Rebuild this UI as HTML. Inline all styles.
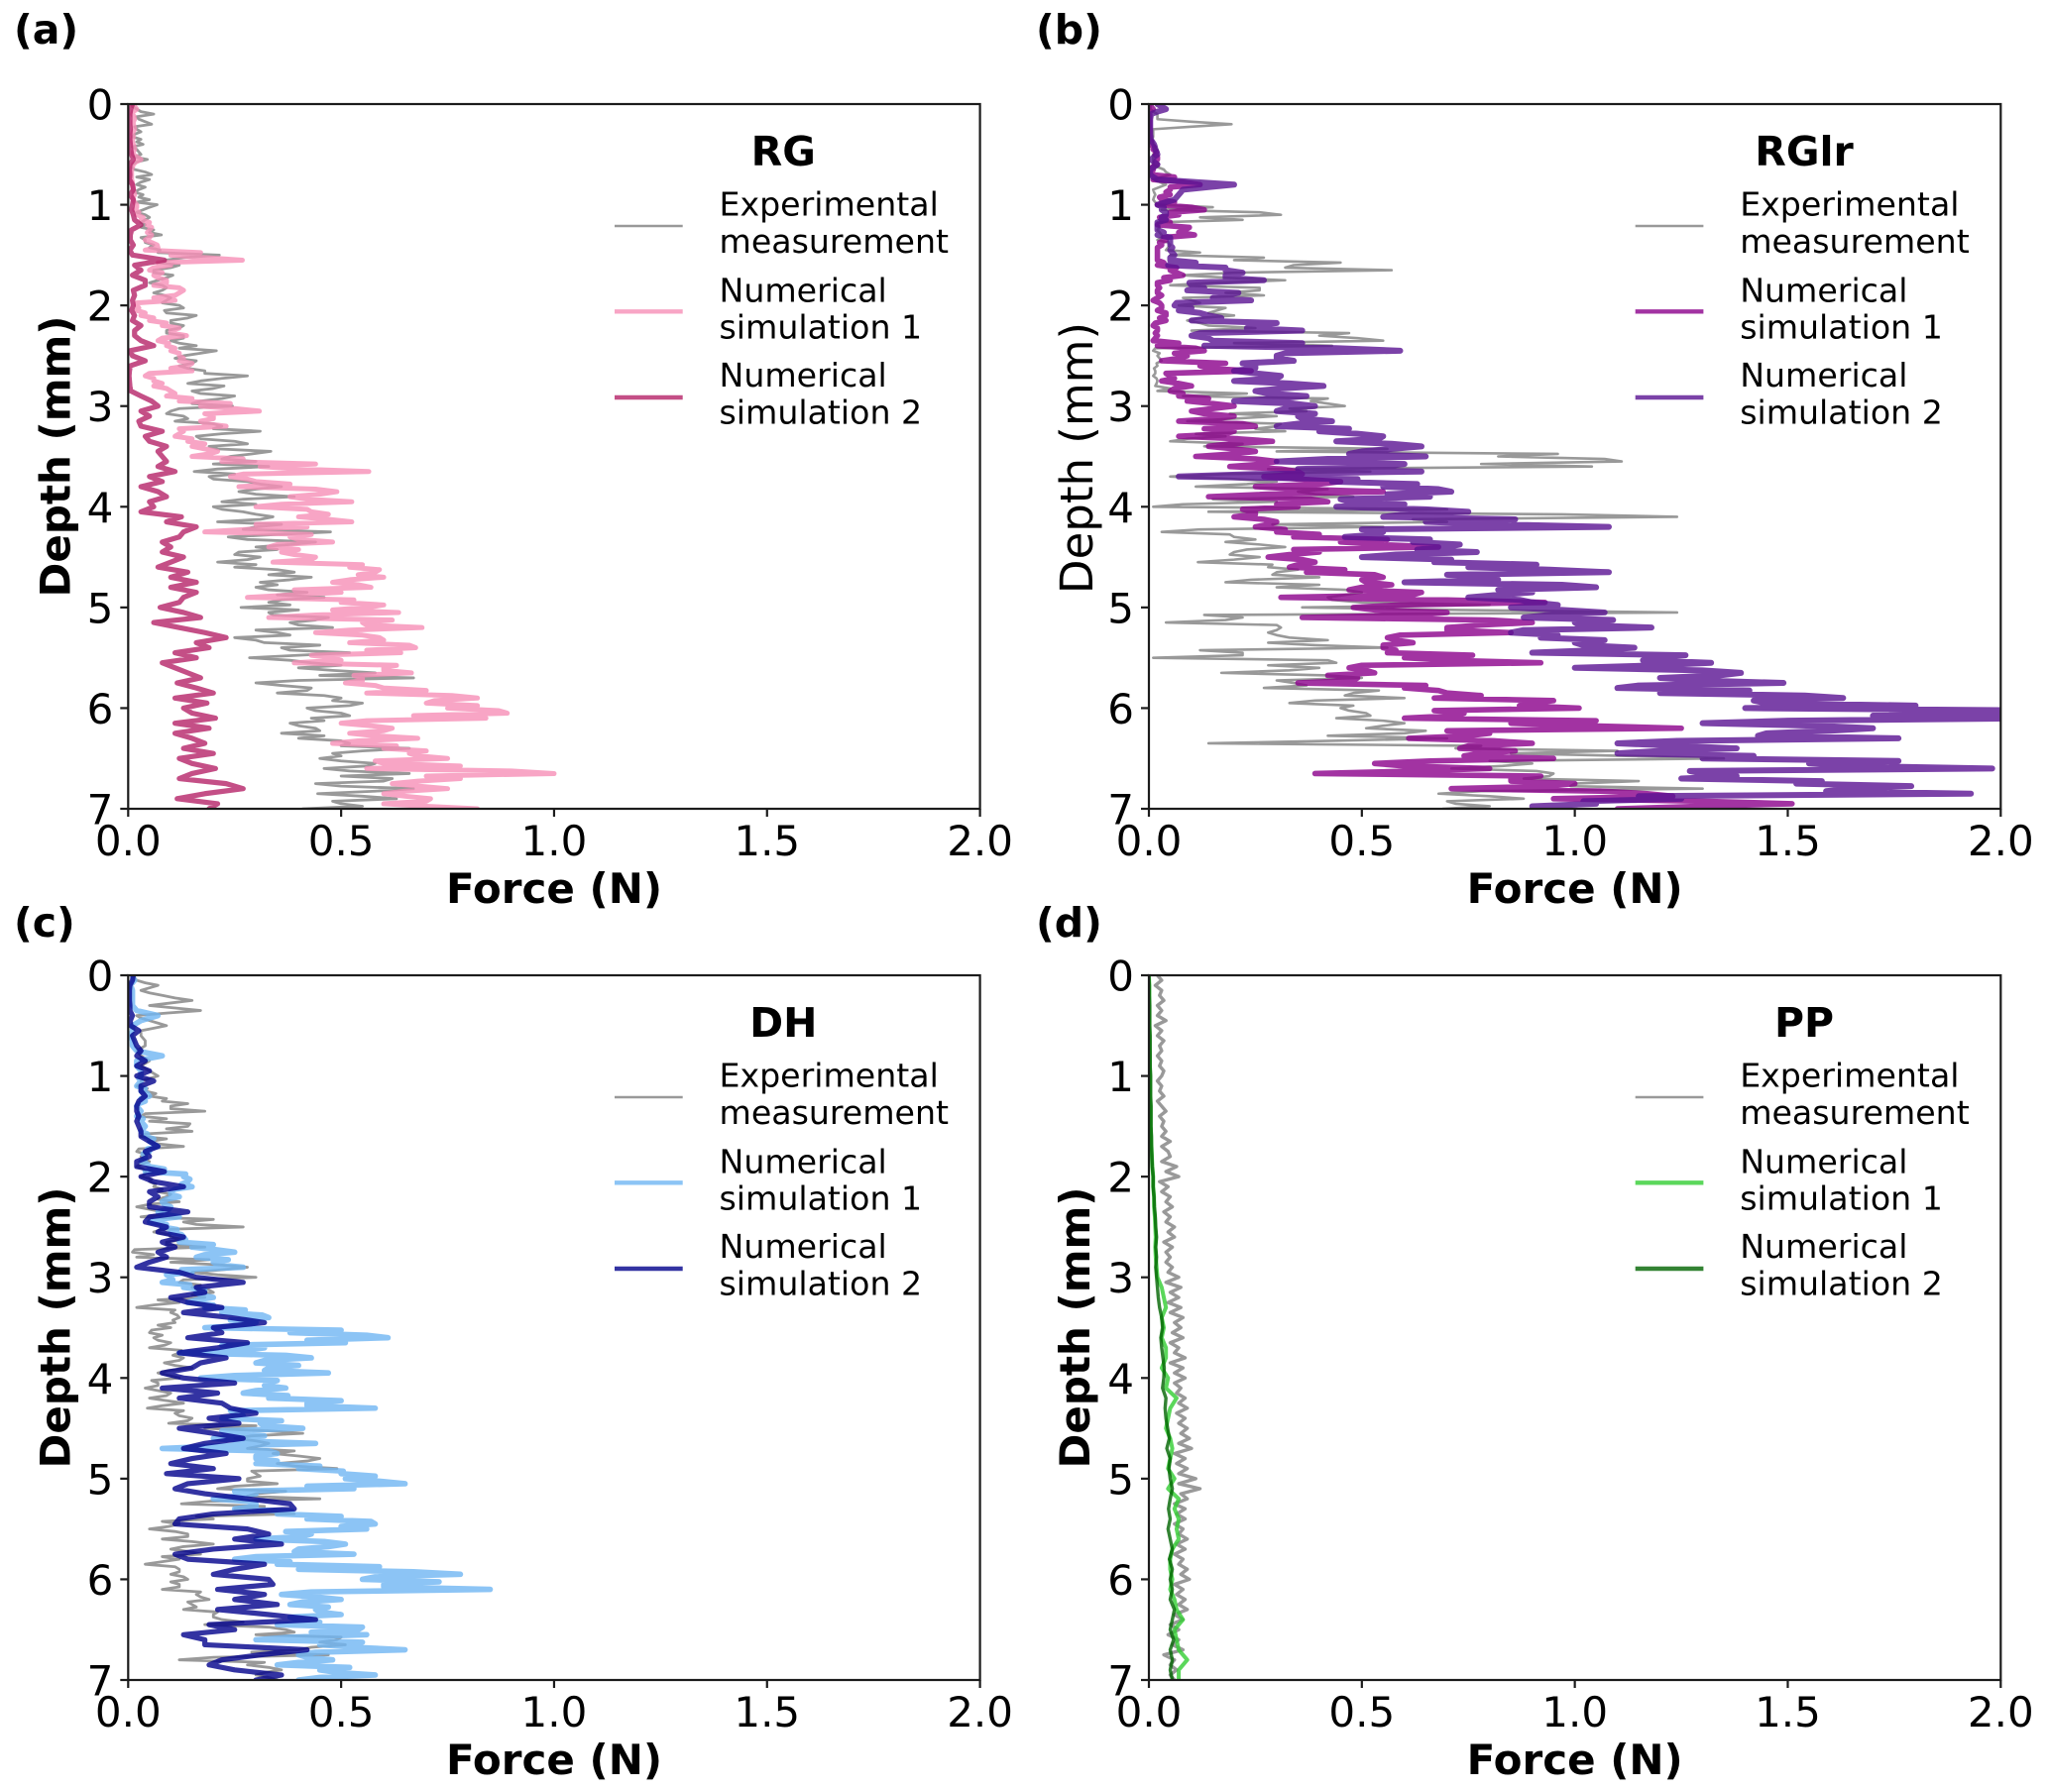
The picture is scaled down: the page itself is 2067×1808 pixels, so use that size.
<!DOCTYPE html>
<html lang="en">
<head>
<meta charset="utf-8">
<title>Force versus depth for RG, RGlr, DH and PP</title>
<style>
html,body{margin:0;padding:0;background:#fff;}
svg{display:block;}
text{font-family:"DejaVu Sans","Liberation Sans",sans-serif;fill:#000;}
.tick{font-size:42px;}
.axis-title{font-size:42px;font-weight:bold;}
.legend-title{font-size:41px;font-weight:bold;text-anchor:middle;}
.legend-text{font-size:33.2px;}
.panel-tag{font-size:41px;font-weight:bold;}
.frame{fill:none;stroke:#1c1c1c;stroke-width:2.2;}
</style>
</head>
<body>
<svg id="figure" xmlns="http://www.w3.org/2000/svg" width="2067" height="1808" viewBox="0 0 2067 1808">
<rect x="0" y="0" width="2067" height="1808" fill="#fff"/>
<defs>
<clipPath id="plot-clip"><rect x="0" y="0" width="859.3" height="711"/></clipPath>
</defs>

<text class="panel-tag" x="14" y="44">(a)</text>
<text class="panel-tag" x="1045" y="44">(b)</text>
<text class="panel-tag" x="14" y="945">(c)</text>
<text class="panel-tag" x="1045" y="945">(d)</text>

<g id="panel-a" transform="translate(129.3 105)">
<g id="marks-a" clip-path="url(#plot-clip)"></g>
<rect class="frame" x="0" y="0" width="859.3" height="711"/>
<g id="ticks-a"></g>
<text class="axis-title" x="429.7" y="806" text-anchor="middle">Force (N)</text>
<text class="axis-title" transform="translate(-59 355.5) rotate(-90)" text-anchor="middle">Depth (mm)</text>
<g>
<text class="legend-title" x="661" y="62">RG</text>
<line x1="490.7" x2="559.4" y1="123" y2="123" stroke="#808080" stroke-opacity="0.8" stroke-width="2.6"/>
<text class="legend-text" x="596.2" y="112.7">Experimental</text>
<text class="legend-text" x="596.2" y="150">measurement</text>
<line x1="490.7" x2="559.4" y1="209.3" y2="209.3" stroke="#f68fb6" stroke-opacity="0.8" stroke-width="4.4"/>
<text class="legend-text" x="596.2" y="199.3">Numerical</text>
<text class="legend-text" x="596.2" y="236.7">simulation 1</text>
<line x1="490.7" x2="559.4" y1="296" y2="296" stroke="#b52368" stroke-opacity="0.8" stroke-width="4.4"/>
<text class="legend-text" x="596.2" y="285">Numerical</text>
<text class="legend-text" x="596.2" y="322.3">simulation 2</text>
</g>
</g>

<g id="panel-b" transform="translate(1159 105)">
<g id="marks-b" clip-path="url(#plot-clip)"></g>
<rect class="frame" x="0" y="0" width="859.3" height="711"/>
<g id="ticks-b"></g>
<text class="axis-title" x="429.7" y="806" text-anchor="middle">Force (N)</text>
<text class="axis-title" style="font-weight:normal;font-size:45px" transform="translate(-57 357) rotate(-90)" text-anchor="middle">Depth (mm)</text>
<g>
<text class="legend-title" x="661" y="62">RGlr</text>
<line x1="490.7" x2="559.4" y1="123" y2="123" stroke="#808080" stroke-opacity="0.8" stroke-width="2.6"/>
<text class="legend-text" x="596.2" y="112.7">Experimental</text>
<text class="legend-text" x="596.2" y="150">measurement</text>
<line x1="490.7" x2="559.4" y1="209.3" y2="209.3" stroke="#8b008b" stroke-opacity="0.8" stroke-width="4.4"/>
<text class="legend-text" x="596.2" y="199.3">Numerical</text>
<text class="legend-text" x="596.2" y="236.7">simulation 1</text>
<line x1="490.7" x2="559.4" y1="296" y2="296" stroke="#5a1392" stroke-opacity="0.8" stroke-width="4.4"/>
<text class="legend-text" x="596.2" y="285">Numerical</text>
<text class="legend-text" x="596.2" y="322.3">simulation 2</text>
</g>
</g>

<g id="panel-c" transform="translate(129.3 984)">
<g id="marks-c" clip-path="url(#plot-clip)"></g>
<rect class="frame" x="0" y="0" width="859.3" height="711"/>
<g id="ticks-c"></g>
<text class="axis-title" x="429.7" y="806" text-anchor="middle">Force (N)</text>
<text class="axis-title" transform="translate(-59 355.5) rotate(-90)" text-anchor="middle">Depth (mm)</text>
<g>
<text class="legend-title" x="661" y="62">DH</text>
<line x1="490.7" x2="559.4" y1="123" y2="123" stroke="#808080" stroke-opacity="0.8" stroke-width="2.6"/>
<text class="legend-text" x="596.2" y="112.7">Experimental</text>
<text class="legend-text" x="596.2" y="150">measurement</text>
<line x1="490.7" x2="559.4" y1="209.3" y2="209.3" stroke="#6fb5f3" stroke-opacity="0.8" stroke-width="4.4"/>
<text class="legend-text" x="596.2" y="199.3">Numerical</text>
<text class="legend-text" x="596.2" y="236.7">simulation 1</text>
<line x1="490.7" x2="559.4" y1="296" y2="296" stroke="#00008b" stroke-opacity="0.8" stroke-width="4.4"/>
<text class="legend-text" x="596.2" y="285">Numerical</text>
<text class="legend-text" x="596.2" y="322.3">simulation 2</text>
</g>
</g>

<g id="panel-d" transform="translate(1159 984)">
<g id="marks-d" clip-path="url(#plot-clip)"></g>
<rect class="frame" x="0" y="0" width="859.3" height="711"/>
<g id="ticks-d"></g>
<text class="axis-title" x="429.7" y="806" text-anchor="middle">Force (N)</text>
<text class="axis-title" transform="translate(-60 355.5) rotate(-90)" text-anchor="middle">Depth (mm)</text>
<g>
<text class="legend-title" x="661" y="62">PP</text>
<line x1="490.7" x2="559.4" y1="123" y2="123" stroke="#808080" stroke-opacity="0.8" stroke-width="2.6"/>
<text class="legend-text" x="596.2" y="112.7">Experimental</text>
<text class="legend-text" x="596.2" y="150">measurement</text>
<line x1="490.7" x2="559.4" y1="209.3" y2="209.3" stroke="#32cd32" stroke-opacity="0.8" stroke-width="4.4"/>
<text class="legend-text" x="596.2" y="199.3">Numerical</text>
<text class="legend-text" x="596.2" y="236.7">simulation 1</text>
<line x1="490.7" x2="559.4" y1="296" y2="296" stroke="#006400" stroke-opacity="0.8" stroke-width="4.4"/>
<text class="legend-text" x="596.2" y="285">Numerical</text>
<text class="legend-text" x="596.2" y="322.3">simulation 2</text>
</g>
</g>
</svg>

<script>
var forceTicks = [0, 0.5, 1, 1.5, 2];
var forceTickLabels = ["0.0", "0.5", "1.0", "1.5", "2.0"];
var depthTicks = [0, 1, 2, 3, 4, 5, 6, 7];
var depthTickLabels = ["0", "1", "2", "3", "4", "5", "6", "7"];

var rgExperimental = [
.01,.02,.06,.025,.055,.02,.015,.03,.035,.02,.03,.045,.01,.015,.055,.05,.02,.025,.035,.05,.068,
.035,.04,.04,.04,.06,.078,.04,.06,.075,.214,.09,.12,.06,.105,.07,.08,.08,.085,.09,.12,
.085,.16,.10,.13,.09,.13,.10,.16,.207,.13,.16,.12,.18,.28,.17,.225,.15,.25,.17,.245,
.10,.13,.11,.22,.31,.16,.25,.19,.335,.24,.30,.33,.155,.19,.28,.36,.26,.39,.22,.20,
.27,.34,.21,.30,.475,.235,.44,.30,.26,.31,.21,.25,.39,.43,.31,.30,.42,.46,.33,.265,
.33,.47,.38,.48,.35,.25,.32,.36,.52,.285,.43,.40,.58,.67,.30,.43,.35,.50,.55,.42,
.50,.43,.38,.44,.36,.40,.52,.66,.48,.45,.58,.46,.66,.62,.44,.67,.445,.63,.5,.41];
var rgExperimentalBetween = [
.01,.03,.02,.04,.015,.03,.01,.02,.01,.025,.015,.02,.008,.04,.02,.03,.04,.015,.025,.02,
.05,.02,.05,.03,.03,.05,.03,.04,.05,.07,.13,.07,.10,.06,.09,.05,.09,.06,.10,.08,
.13,.09,.14,.10,.12,.09,.13,.12,.12,.17,.11,.15,.14,.18,.22,.14,.20,.17,.22,.15,
.12,.09,.14,.20,.20,.22,.17,.28,.21,.29,.22,.20,.21,.25,.20,.31,.30,.30,.27,.30,
.22,.30,.31,.36,.27,.35,.28,.38,.35,.25,.28,.30,.35,.33,.38,.35,.33,.35,.36,.38,
.40,.34,.44,.40,.30,.38,.30,.45,.38,.40,.38,.50,.48,.45,.40,.36,.42,.46,.48,.52,
.44,.52,.46,.40,.45,.46,.50,.50,.55,.50,.50,.56,.52,.50,.60,.50,.58,.55,.48,.55];
var rgSimulation1 = [
.01,.02,.01,.015,.012,.015,.01,.01,.012,.015,.012,.03,.012,.008,.008,.008,.01,.012,.015,.012,.02,
.015,.02,.03,.045,.05,.055,.04,.068,.04,.10,.268,.10,.05,.06,.09,.06,.13,.11,.11,.02,
.02,.03,.05,.08,.10,.137,.07,.09,.10,.12,.12,.14,.15,.04,.06,.06,.10,.09,.12,.17,
.308,.20,.17,.23,.13,.11,.14,.15,.21,.15,.22,.31,.565,.24,.30,.26,.49,.38,.525,.30,
.43,.40,.525,.42,.18,.38,.48,.33,.36,.44,.34,.52,.58,.60,.48,.57,.50,.28,.50,.56,
.635,.33,.55,.69,.44,.59,.52,.675,.64,.48,.39,.60,.665,.55,.51,.60,.56,.82,.70,.75,
.89,.84,.50,.62,.52,.68,.48,.60,.66,.75,.60,.56,1.0,.78,.62,.75,.60,.71,.60,.82];
var rgSimulation1Between = [
.015,.012,.014,.012,.014,.012,.012,.01,.014,.012,.02,.018,.01,.008,.008,.01,.012,.014,.012,.015,
.02,.025,.035,.05,.055,.045,.05,.055,.07,.17,.18,.07,.06,.08,.07,.09,.12,.12,.06,.02,
.025,.04,.06,.09,.12,.10,.08,.095,.11,.12,.13,.15,.10,.05,.06,.08,.09,.11,.15,.24,
.25,.18,.20,.18,.12,.12,.15,.18,.18,.19,.27,.44,.40,.27,.28,.38,.44,.45,.42,.36,
.42,.47,.47,.30,.28,.43,.40,.35,.40,.39,.43,.55,.59,.54,.52,.54,.39,.39,.53,.60,
.48,.44,.62,.56,.52,.55,.60,.66,.56,.43,.50,.63,.60,.53,.55,.58,.70,.76,.72,.82,
.87,.67,.56,.57,.60,.58,.54,.63,.70,.68,.58,.78,.90,.70,.68,.68,.65,.65,.70,.70];
var rgSimulation2 = [
.01,.006,.004,.004,.004,.005,.004,.004,.005,.006,.008,.012,.004,.003,.004,.003,.01,.012,.005,.012,.01,
.008,.012,.015,.03,.008,.005,.005,.012,.004,.01,.085,.015,.03,.01,.04,.04,.012,.015,.01,.012,
.008,.015,.01,.03,.015,.015,.03,.06,.005,.01,.04,.005,.003,.002,.003,.004,.006,.03,.055,.07,
.03,.05,.025,.03,.08,.04,.05,.09,.07,.08,.09,.07,.11,.05,.08,.03,.07,.09,.05,.06,
.03,.125,.09,.16,.13,.12,.08,.10,.08,.13,.10,.07,.14,.10,.16,.10,.16,.13,.12,.075,
.13,.17,.06,.12,.18,.23,.16,.19,.11,.16,.08,.11,.14,.17,.115,.16,.20,.11,.185,.13,
.15,.205,.11,.19,.11,.15,.18,.13,.20,.12,.15,.205,.15,.12,.23,.27,.18,.115,.21,.19];

var rglrExperimental = [
.003,.004,.02,.02,.194,.01,.01,.008,.012,.02,.01,.01,.01,.035,.05,.01,.04,.01,.015,.01,.02,
.03,.31,.22,.02,.02,.03,.02,.05,.04,.05,.20,.34,.57,.08,.32,.05,.26,.27,.10,.07,
.16,.20,.09,.14,.10,.40,.55,.43,.01,.02,.03,.02,.015,.01,.02,.015,.02,.08,.38,.46,
.37,.30,.09,.30,.32,.18,.05,.13,.30,.82,1.11,1.04,.52,.05,.30,.11,.35,.48,.30,.01,
.14,1.24,.70,.55,.03,.20,.18,.32,.20,.26,.115,.28,.30,.40,.18,.30,.50,.42,.50,.36,
1.24,.22,.04,.31,.28,.33,.28,.56,.22,.01,.44,.40,.17,.50,.34,.27,.48,.60,.33,.45,
.51,.44,.60,.51,.60,.70,.14,.72,.85,1.35,.90,.71,.95,.88,1.0,1.3,.68,.88,.72,.69];
var rglrExperimentalBetween = [
.004,.01,.02,.10,.10,.01,.01,.01,.015,.015,.01,.01,.02,.04,.03,.025,.025,.012,.012,.015,
.15,.26,.12,.02,.025,.025,.03,.045,.045,.12,.27,.45,.32,.20,.18,.15,.26,.18,.08,.12,
.18,.14,.12,.12,.25,.47,.49,.20,.015,.025,.025,.018,.012,.015,.018,.018,.05,.23,.42,.42,
.33,.19,.20,.31,.25,.11,.09,.22,.56,.96,1.07,.78,.28,.18,.20,.23,.42,.39,.15,.08,
.70,.97,.62,.29,.12,.19,.25,.26,.23,.19,.20,.29,.35,.29,.24,.40,.46,.46,.43,.80,
.73,.13,.18,.30,.30,.30,.42,.39,.12,.22,.42,.28,.33,.42,.30,.37,.54,.46,.39,.48,
.47,.52,.55,.55,.65,.42,.43,.78,1.1,1.12,.80,.83,.91,.94,1.15,.99,.78,.80,.70,.80];
var rglrSimulation1 = [
.005,.01,.002,.002,.002,.002,.002,.002,.002,.01,.015,.02,.02,.01,.005,.01,.12,.05,.05,.03,.02,
.13,.07,.03,.02,.085,.107,.04,.03,.02,.02,.02,.02,.05,.08,.05,.02,.02,.03,.01,.03,
.02,.04,.04,.01,.02,.02,.01,.02,.13,.09,.03,.12,.24,.05,.03,.10,.05,.07,.09,.20,
.10,.20,.07,.25,.20,.07,.29,.14,.25,.11,.30,.19,.35,.27,.45,.25,.55,.14,.42,.35,
.25,.20,.30,.25,.30,.34,.45,.68,.40,.28,.39,.33,.37,.55,.51,.50,.64,.31,.93,.48,
.70,.36,.90,.70,.85,.56,.62,.55,.56,.60,.92,.47,.53,.49,.35,.60,.70,.67,.90,1.01,
.74,.60,.85,1.25,.80,.61,.90,.73,.78,.95,.53,.80,.39,.85,1.0,.71,1.17,.95,1.51,1.1];
var rglrSimulation1Between = [
.005,.002,.002,.002,.002,.002,.002,.006,.012,.018,.02,.015,.008,.008,.06,.08,.05,.04,.025,.06,
.10,.05,.025,.05,.095,.07,.035,.025,.02,.02,.02,.035,.065,.065,.035,.02,.025,.02,.02,.025,
.03,.04,.025,.015,.02,.015,.015,.07,.11,.06,.07,.18,.14,.04,.06,.07,.06,.08,.14,.15,
.15,.13,.16,.22,.13,.18,.21,.19,.20,.20,.25,.27,.31,.36,.35,.40,.35,.28,.38,.30,
.22,.25,.27,.28,.32,.40,.56,.54,.34,.33,.36,.35,.46,.53,.50,.57,.47,.62,.70,.59,
.53,.63,.80,.78,.70,.59,.58,.55,.58,.76,.70,.50,.51,.42,.48,.65,.68,.78,.95,.87,
.67,.72,1.05,1.02,.70,.75,.81,.75,.86,.74,.66,.60,.62,.92,.85,.94,1.06,1.23,1.3,1.3];
var rglrSimulation2 = [
.02,.04,.005,.003,.003,.003,.003,.004,.012,.015,.02,.005,.02,.003,.003,.02,.20,.08,.07,.06,.02,
.03,.04,.04,.02,.02,.02,.05,.05,.05,.06,.05,.045,.18,.18,.27,.10,.09,.18,.24,.06,
.07,.14,.10,.25,.36,.10,.15,.13,.59,.30,.34,.25,.20,.31,.20,.41,.25,.37,.20,.39,
.30,.35,.43,.30,.40,.55,.44,.64,.50,.65,.30,.55,.64,.07,.43,.55,.71,.66,.47,.44,
.75,.55,.65,1.08,.55,.46,.62,.70,.77,.50,.67,.75,1.08,.80,.60,1.05,.90,.75,.90,.85,
1.07,.88,1.0,1.18,.85,.92,1.0,1.14,.90,1.20,1.32,1.0,1.39,1.20,1.49,1.10,1.20,1.63,1.45,1.40,
2.2,2.1,1.30,1.70,1.45,1.76,1.10,1.38,1.10,1.30,1.55,1.98,1.30,1.25,1.52,1.65,1.93,1.25,1.05,1.0];
var rglrSimulation2Between = [
.03,.02,.004,.003,.003,.003,.004,.008,.014,.018,.012,.012,.012,.003,.01,.11,.14,.075,.065,.04,
.035,.04,.03,.02,.02,.035,.05,.05,.055,.055,.05,.11,.18,.22,.18,.095,.13,.21,.15,.065,
.10,.12,.17,.30,.23,.12,.14,.36,.44,.32,.30,.22,.25,.25,.30,.33,.31,.28,.30,.34,
.32,.39,.36,.35,.47,.49,.54,.57,.57,.47,.42,.60,.35,.25,.49,.63,.68,.56,.45,.60,
.65,.60,.86,.81,.50,.54,.66,.73,.63,.58,.71,.91,.94,.70,.82,.97,.82,.82,.87,.96,
.97,.94,1.09,1.01,.88,.96,1.07,1.02,1.05,1.26,1.16,1.19,1.30,1.34,1.29,1.15,1.41,1.54,1.42,1.80,
2.15,1.70,1.50,1.57,1.60,1.43,1.24,1.24,1.20,1.42,1.76,1.64,1.27,1.38,1.58,1.79,1.59,1.15,1.02,.90];

var dhExperimental = [
.01,.02,.07,.03,.08,.15,.05,.17,.02,.05,.09,.03,.03,.04,.04,.02,.03,.05,.03,.05,.07,
.03,.02,.04,.05,.08,.10,.18,.03,.05,.14,.15,.03,.05,.13,.02,.03,.05,.02,.04,.03,
.05,.06,.07,.09,.12,.02,.08,.03,.13,.27,.06,.10,.09,.18,.01,.02,.10,.28,.15,.30,
.12,.15,.20,.18,.12,.02,.10,.12,.11,.10,.05,.06,.10,.05,.12,.13,.085,.15,.07,.12,
.07,.04,.10,.05,.13,.045,.11,.15,.095,.18,.41,.25,.33,.28,.34,.45,.35,.49,.30,.28,
.35,.21,.30,.45,.125,.25,.39,.20,.12,.05,.14,.08,.20,.10,.17,.12,.04,.12,.10,.14,
.12,.08,.16,.19,.15,.13,.20,.22,.18,.37,.30,.49,.51,.40,.47,.12,.28,.36,.30,.35];
var dhExperimentalBetween = [
.015,.04,.05,.05,.11,.10,.11,.09,.03,.07,.06,.03,.035,.04,.03,.025,.04,.04,.04,.06,
.05,.03,.045,.065,.09,.14,.10,.04,.09,.145,.09,.04,.09,.07,.025,.04,.035,.03,.035,.04,
.055,.065,.08,.10,.07,.05,.05,.08,.20,.16,.08,.095,.13,.09,.015,.06,.19,.21,.22,.21,
.13,.17,.19,.15,.07,.06,.11,.115,.105,.07,.055,.08,.07,.085,.125,.105,.12,.11,.095,.095,
.055,.07,.07,.09,.09,.08,.13,.12,.14,.30,.33,.29,.30,.31,.39,.40,.42,.39,.29,.31,
.28,.25,.37,.28,.19,.32,.29,.16,.08,.095,.11,.14,.15,.13,.145,.08,.08,.11,.12,.13,
.10,.12,.17,.17,.14,.16,.21,.20,.27,.33,.39,.50,.45,.43,.29,.20,.32,.33,.32,.33];
var dhSimulation1 = [
.01,.015,.005,.01,.01,.01,.01,.02,.07,.03,.01,.01,.005,.01,.01,.02,.08,.02,.02,.03,.03,
.03,.02,.03,.05,.04,.02,.03,.02,.03,.04,.03,.04,.05,.07,.05,.04,.03,.05,.04,.13,
.14,.15,.10,.12,.08,.10,.07,.12,.05,.08,.10,.13,.12,.15,.25,.16,.20,.27,.15,.10,
.08,.13,.16,.20,.14,.18,.22,.33,.30,.18,.38,.61,.51,.32,.12,.43,.30,.33,.47,.17,
.33,.37,.27,.33,.42,.58,.25,.22,.31,.41,.23,.20,.44,.08,.35,.30,.30,.40,.50,.51,
.65,.53,.30,.20,.30,.25,.35,.42,.58,.56,.43,.30,.51,.40,.53,.25,.35,.40,.78,.55,
.60,.85,.36,.50,.38,.44,.50,.40,.35,.54,.56,.30,.45,.65,.40,.48,.35,.45,.58,.40];
var dhSimulation1Between = [
.012,.01,.008,.01,.01,.01,.015,.045,.05,.02,.01,.008,.008,.01,.015,.05,.05,.02,.025,.03,
.025,.025,.04,.045,.03,.025,.025,.025,.035,.035,.035,.045,.06,.06,.045,.035,.04,.045,.085,.135,
.145,.125,.11,.10,.09,.085,.095,.085,.065,.09,.115,.125,.135,.20,.205,.18,.235,.21,.125,.09,
.105,.145,.18,.17,.16,.20,.275,.315,.24,.28,.50,.56,.42,.22,.28,.37,.32,.40,.32,.25,
.35,.32,.30,.375,.50,.42,.24,.27,.36,.32,.22,.32,.26,.22,.33,.30,.35,.45,.505,.58,
.59,.42,.25,.25,.28,.30,.385,.50,.57,.50,.37,.41,.46,.47,.39,.30,.38,.59,.67,.58,
.73,.60,.43,.44,.41,.47,.45,.38,.45,.55,.43,.38,.55,.53,.44,.42,.40,.52,.49,.45];
var dhSimulation2 = [
.012,.01,.004,.003,.003,.003,.004,.004,.01,.005,.006,.025,.01,.015,.02,.03,.02,.04,.02,.05,.02,
.06,.03,.03,.04,.025,.02,.02,.025,.02,.025,.03,.03,.05,.07,.04,.05,.02,.02,.085,.03,
.06,.13,.05,.07,.05,.05,.14,.05,.04,.09,.07,.13,.08,.11,.07,.09,.05,.02,.12,.16,
.27,.16,.18,.10,.14,.22,.13,.24,.32,.20,.22,.14,.28,.21,.12,.23,.17,.15,.08,.13,
.25,.08,.21,.12,.22,.24,.30,.19,.26,.12,.20,.27,.18,.13,.23,.15,.10,.20,.09,.26,
.14,.11,.18,.28,.38,.39,.20,.12,.11,.28,.33,.25,.36,.20,.11,.14,.32,.25,.20,.33,
.34,.21,.32,.25,.35,.21,.33,.44,.19,.25,.13,.18,.18,.42,.31,.22,.19,.25,.36,.30];

var ppExperimental = [
.02,.03,.015,.03,.025,.035,.02,.03,.02,.04,.015,.03,.02,.035,.025,.03,.02,.03,.025,.035,.03,
.02,.03,.025,.035,.02,.03,.04,.025,.035,.03,.04,.03,.05,.03,.045,.05,.03,.065,.04,.07,
.025,.045,.03,.05,.04,.055,.035,.05,.04,.06,.045,.06,.035,.055,.04,.05,.04,.055,.045,.07,
.04,.075,.05,.07,.045,.075,.05,.08,.06,.075,.055,.08,.05,.07,.06,.085,.05,.08,.06,.085,
.06,.075,.065,.085,.07,.09,.065,.085,.07,.09,.075,.095,.07,.10,.06,.085,.065,.09,.07,.11,
.07,.12,.075,.09,.06,.085,.065,.085,.06,.08,.07,.09,.065,.085,.06,.08,.07,.09,.075,.095,
.06,.08,.065,.085,.07,.09,.06,.08,.05,.07,.045,.07,.055,.08,.035,.06,.05,.065,.05,.06];
var ppSimulation1 = [
0,.001,.001,.001,.001,.001,.001,.001,.002,.002,.003,
.003,.003,.004,.004,.004,.005,.006,.007,.008,.01,
.01,.012,.012,.014,.015,.016,.015,.016,.018,.02,
.03,.035,.04,.03,.035,.03,.04,.04,.03,.045,
.04,.065,.05,.045,.04,.05,.055,.05,.045,.06,
.045,.07,.06,.07,.065,.07,.055,.05,.05,.055,
.05,.06,.065,.08,.06,.065,.07,.09,.07,.07];
var ppSimulation2 = [
0,.001,.001,.002,.002,.002,.003,.003,.003,.003,.004,
.004,.004,.005,.005,.005,.006,.006,.007,.008,.01,
.01,.012,.013,.015,.016,.018,.016,.018,.016,.018,
.02,.022,.025,.03,.032,.028,.03,.033,.036,.035,
.032,.04,.038,.04,.044,.048,.042,.05,.047,.05,
.055,.05,.046,.05,.045,.05,.055,.048,.055,.05,
.055,.05,.06,.055,.05,.058,.05,.055,.05,.055];

var SVG_NS = "http://www.w3.org/2000/svg";
var PLOT_WIDTH = 859.3, PLOT_HEIGHT = 711, FORCE_MAX = 2, DEPTH_MAX = 7;

function xScale(force) { return force / FORCE_MAX * PLOT_WIDTH; }
function yScale(depth) { return depth / DEPTH_MAX * PLOT_HEIGHT; }

function interleave(atSteps, betweenSteps) {
  var merged = [];
  for (var i = 0; i < atSteps.length; i++) {
    merged.push(atSteps[i]);
    if (betweenSteps && i < atSteps.length - 1 && i < betweenSteps.length) {
      merged.push(betweenSteps[i]);
    }
  }
  return merged;
}

function drawSeries(groupId, values, colour, width, name) {
  var group = document.getElementById(groupId);
  var line = document.createElementNS(SVG_NS, "polyline");
  var pts = [];
  for (var i = 0; i < values.length; i++) {
    var depth = DEPTH_MAX * i / (values.length - 1);
    pts.push(xScale(values[i]).toFixed(2) + "," + yScale(depth).toFixed(2));
  }
  line.setAttribute("points", pts.join(" "));
  line.setAttribute("fill", "none");
  line.setAttribute("stroke", colour);
  line.setAttribute("stroke-opacity", "0.8");
  line.setAttribute("stroke-width", width);
  line.setAttribute("stroke-linejoin", "round");
  line.setAttribute("stroke-linecap", "round");
  
  
  group.appendChild(line);
}

function drawTicks(groupId) {
  var group = document.getElementById(groupId);
  forceTicks.forEach(function (value, i) {
    var x = xScale(value);
    var mark = document.createElementNS(SVG_NS, "line");
    mark.setAttribute("x1", x);
    mark.setAttribute("x2", x);
    mark.setAttribute("y1", PLOT_HEIGHT);
    mark.setAttribute("y2", PLOT_HEIGHT + 8);
    mark.setAttribute("stroke", "#1c1c1c");
    mark.setAttribute("stroke-width", "2.2");
    
    
    group.appendChild(mark);
    var label = document.createElementNS(SVG_NS, "text");
    label.setAttribute("class", "tick");
    label.setAttribute("x", x);
    label.setAttribute("y", PLOT_HEIGHT + 47);
    label.setAttribute("text-anchor", "middle");
    
    
    label.textContent = forceTickLabels[i];
    group.appendChild(label);
  });
  depthTicks.forEach(function (value, i) {
    var y = yScale(value);
    var mark = document.createElementNS(SVG_NS, "line");
    mark.setAttribute("x1", -8);
    mark.setAttribute("x2", 0);
    mark.setAttribute("y1", y);
    mark.setAttribute("y2", y);
    mark.setAttribute("stroke", "#1c1c1c");
    mark.setAttribute("stroke-width", "2.2");
    
    
    group.appendChild(mark);
    var label = document.createElementNS(SVG_NS, "text");
    label.setAttribute("class", "tick");
    label.setAttribute("x", -15);
    label.setAttribute("y", y + 15.5);
    label.setAttribute("text-anchor", "end");
    
    
    label.textContent = depthTickLabels[i];
    group.appendChild(label);
  });
}

drawSeries("marks-a", interleave(rgExperimental, rgExperimentalBetween), "#808080", 2.8, "rg-experimental-line");
drawSeries("marks-a", interleave(rgSimulation1, rgSimulation1Between), "#f68fb6", 5, "rg-simulation-1-line");
drawSeries("marks-a", rgSimulation2, "#b52368", 5.2, "rg-simulation-2-line");
drawSeries("marks-b", interleave(rglrExperimental, rglrExperimentalBetween), "#808080", 2.6, "rglr-experimental-line");
drawSeries("marks-b", interleave(rglrSimulation1, rglrSimulation1Between), "#8b008b", 5.6, "rglr-simulation-1-line");
drawSeries("marks-b", interleave(rglrSimulation2, rglrSimulation2Between), "#5a1392", 6, "rglr-simulation-2-line");
drawSeries("marks-c", interleave(dhExperimental, dhExperimentalBetween), "#808080", 2.8, "dh-experimental-line");
drawSeries("marks-c", interleave(dhSimulation1, dhSimulation1Between), "#6fb5f3", 5.6, "dh-simulation-1-line");
drawSeries("marks-c", dhSimulation2, "#00008b", 5.2, "dh-simulation-2-line");
drawSeries("marks-d", ppExperimental, "#808080", 3.4, "pp-experimental-line");
drawSeries("marks-d", ppSimulation1, "#32cd32", 4, "pp-simulation-1-line");
drawSeries("marks-d", ppSimulation2, "#006400", 3.4, "pp-simulation-2-line");

drawTicks("ticks-a");
drawTicks("ticks-b");
drawTicks("ticks-c");
drawTicks("ticks-d");
</script>
</body>
</html>
